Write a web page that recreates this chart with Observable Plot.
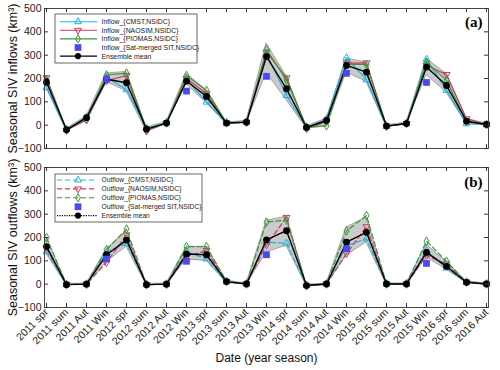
<!DOCTYPE html>
<html><head><meta charset="utf-8">
<script src="https://cdn.jsdelivr.net/npm/d3@7"></script>
<script src="https://cdn.jsdelivr.net/npm/@observablehq/plot@0.6"></script>
<style>
body{margin:0;background:#fff;font-family:"Liberation Sans",Arial,sans-serif;}
#chart{width:500px;height:370px;position:relative;}
#chart svg{display:block;overflow:visible;}
</style></head><body><div id="chart"></div>
<script>
// ---- data ----
const seasons = ["2011 spr","2011 sum","2011 Aut","2011 Win","2012 spr","2012 sum","2012 Aut","2012 Win",
  "2013 spr","2013 sum","2013 Aut","2013 Win","2014 spr","2014 sum","2014 Aut","2014 Win",
  "2015 spr","2015 sum","2015 Aut","2015 Win","2016 spr","2016 sum","2016 Aut"];
const yTicks = [-100, 0, 100, 200, 300, 400, 500];

// Panel (a) inflows
const inCMST   = [160,-18,35,205,152,-12,10,196,99,8,14,306,127,-10,27,289,194,-5,8,282,149,6,3];
const inNAOSIM = [203,-22,22,190,213,-25,9,200,135,10,12,313,203,-15,15,266,267,-4,7,256,217,27,4];
const inPIOMAS = [195,-20,28,215,223,-18,10,213,149,10,13,324,194,-8,-3,260,260,-4,8,270,192,15,3];
const inSat    = [null,null,null,197,null,null,null,146,null,null,null,209,null,null,null,222,null,null,null,183,null,null,null];
const inEns    = [184,-20,32,197,182,-17,9,189,123,9,13,294,156,-10,20,256,227,-4,7,249,170,17,3];
const inLo     = [160,-25,22,185,145,-28,5,175,95,5,8,224,108,-15,-5,226,186,-8,3,215,140,5,0];
const inHi     = [205,-15,38,222,228,-10,14,220,150,12,18,351,210,-5,28,286,268,0,10,285,220,28,6];

// Panel (b) outflows
const outCMST   = [139,-2,0,136,175,-2,0,139,108,10,1,180,175,-5,1,165,194,1,1,144,69,7,1];
const outNAOSIM = [155,-2,0,93,211,-3,0,118,144,11,1,169,286,-8,1,131,246,1,1,122,87,9,1];
const outPIOMAS = [200,-2,0,148,236,-2,0,161,161,12,1,266,275,-6,1,228,294,1,1,184,98,9,1];
const outSat    = [null,null,null,108,null,null,null,98,null,null,null,126,null,null,null,151,null,null,null,89,null,null,null];
const outEns    = [161,-2,0,126,189,-2,0,129,126,11,1,190,229,-6,1,180,222,1,1,136,76,8,1];
const outLo     = [130,-4,-2,95,160,-4,-2,105,100,5,-2,136,165,-9,-2,122,179,-2,-2,115,62,5,-2];
const outHi     = [200,2,2,150,225,2,2,160,160,15,3,272,289,-2,3,243,286,3,3,170,95,12,3];

const inNames  = ["Inflow_{CMST,NSIDC}","Inflow_{NAOSIM,NSIDC}","Inflow_{PIOMAS,NSIDC}","Inflow_{Sat-merged SIT,NSIDC}","Ensemble mean"];
const outNames = ["Outflow_{CMST,NSIDC}","Outflow_{NAOSIM,NSIDC}","Outflow_{PIOMAS,NSIDC}","Outflow_{Sat-merged SIT,NSIDC}","Ensemble mean"];

// ---- styling ----
const colors = {cmst:"#18b4ec", naosim:"#d23a58", piomas:"#3a983a", sat:"#4848f4"};
const W = 500, ML = 44, MR = 12;

function rowsOf(vals){ return seasons.map((s,i)=>({s, v: vals[i]})).filter(d=>d.v!=null); }

function makePanel(o){
  const frameH = o.height - o.marginTop - o.marginBottom;
  const frameW = W - ML - MR;
  const band = seasons.map((s,i)=>({s, lo:o.lo[i], hi:o.hi[i]}));
  const dash = o.dashed ? "5,3" : null;
  const models = [
    {vals:o.cmst, c:colors.cmst, sym:"triangle", rot:0},
    {vals:o.naosim, c:colors.naosim, sym:"triangle", rot:180},
    {vals:o.piomas, c:colors.piomas, sym:"diamond", rot:0}
  ];
  const marks = [
    Plot.areaY(band, {x:"s", y1:"lo", y2:"hi", fill:"#cbcbcb", stroke:"#8a8a8a", strokeWidth:0.7}),
  ];
  for (const m of models){
    marks.push(Plot.line(rowsOf(m.vals), {x:"s", y:"v", stroke:m.c, strokeWidth:1.2, strokeDasharray:dash}));
    marks.push(Plot.dot(rowsOf(m.vals), {x:"s", y:"v", symbol:m.sym, rotate:m.rot, r:2.6, stroke:m.c, fill:"none", strokeWidth:1}));
  }
  marks.push(
    Plot.line(rowsOf(o.ens), {x:"s", y:"v", stroke:"black", strokeWidth:1.4}),
    Plot.dot(rowsOf(o.ens), {x:"s", y:"v", r:3.4, fill:"black"}),
    Plot.dot(rowsOf(o.sat), {x:"s", y:"v", symbol:"square", r:3.8, fill:colors.sat}),
    Plot.frame({stroke:"#333", strokeWidth:0.9}),
    Plot.tickX(seasons, {x:d=>d, insetTop:frameH-4, stroke:"#333"}),
    Plot.tickX(seasons, {x:d=>d, insetBottom:frameH-4, stroke:"#333"}),
    Plot.tickY(yTicks, {y:d=>d, insetRight:frameW-4, stroke:"#333"}),
    Plot.tickY(yTicks, {y:d=>d, insetLeft:frameW-4, stroke:"#333"}),
    Plot.axisY(yTicks, {tickSize:0, tickPadding:3, fontSize:10.5, label:null}),
    Plot.text([o.ylabel], {frameAnchor:"left", rotate:-90, dx:-32, textAnchor:"middle", lineAnchor:"middle", fontSize:12.5, fill:"#111"}),
    Plot.text([o.tag], {frameAnchor:"top-right", dx:-6, dy:o.tagDy, textAnchor:"end", lineAnchor:"top",
      fontFamily:"Liberation Serif, Times New Roman, serif", fontWeight:"bold", fontSize:15, fill:"black"})
  );
  if (o.showX){
    marks.push(
      Plot.axisX(seasons, {tickSize:0, tickRotate:-45, tickPadding:3, fontSize:10.5, label:null}),
      Plot.text(["Date (year season)"], {frameAnchor:"bottom", dy:46, lineAnchor:"top", textAnchor:"middle", fontSize:12, fill:"#111"})
    );
  }
  const svg = Plot.plot({
    width:W, height:o.height, marginLeft:ML, marginRight:MR, marginTop:o.marginTop, marginBottom:o.marginBottom,
    style:{fontFamily:"Liberation Sans, Arial, sans-serif", background:"white", color:"#222"},
    x:{type:"point", domain:seasons, padding:0, axis: o.showX ? undefined : null},
    y:{domain:[-100,500], axis:null},
    marks
  });
  addLegend(svg, o);
  return svg;
}

function addLegend(svg, o){
  const L = o.legend;
  const g = d3.select(svg).append("g").attr("font-family","Liberation Sans, Arial, sans-serif")
    .attr("font-size", L.fs).attr("text-anchor","start");
  g.append("rect").attr("x",L.x).attr("y",L.y).attr("width",L.w).attr("height",L.h)
    .attr("fill","white").attr("stroke","#444").attr("stroke-width",0.8);
  const items = [
    {c:colors.cmst, sym:d3.symbolTriangle, rot:0, line:true, dash:o.dashed?"5,3":null},
    {c:colors.naosim, sym:d3.symbolTriangle, rot:180, line:true, dash:o.dashed?"5,3":null},
    {c:colors.piomas, sym:d3.symbolDiamond, rot:0, line:true, dash:o.dashed?"5,3":null},
    {c:colors.sat, sym:d3.symbolSquare, rot:0, line:false, fill:true},
    {c:"black", sym:d3.symbolCircle, rot:0, line:true, fill:true, dash:o.dashed?"1.2,1.2":null}
  ];
  items.forEach((it,i)=>{
    const y = L.y + L.first + i*L.step;
    if (it.line){
      g.append("line").attr("x1",L.lx1).attr("x2",L.lx2).attr("y1",y).attr("y2",y)
        .attr("stroke",it.c).attr("stroke-width",1.1).attr("stroke-dasharray",it.dash);
    }
    const size = it.sym===d3.symbolSquare ? 45 : (it.sym===d3.symbolCircle ? 30 : 20);
    g.append("path").attr("d", d3.symbol(it.sym, size)())
      .attr("transform",`translate(${L.mx},${y}) rotate(${it.rot})`)
      .attr("fill", it.fill ? it.c : "none").attr("stroke", it.c).attr("stroke-width", it.fill?0:1);
    g.append("text").attr("x",L.tx).attr("y",y).attr("dy","0.35em").attr("fill","#222")
      .attr("text-anchor","start").text(o.names[i]);
  });
}

const chart = document.getElementById("chart");
chart.appendChild(makePanel({
  height:158, marginTop:8, marginBottom:10, showX:false, dashed:false,
  cmst:inCMST, naosim:inNAOSIM, piomas:inPIOMAS, sat:inSat, ens:inEns, lo:inLo, hi:inHi,
  ylabel:"Seasonal SIV inflows (km³)", tag:"(a)", tagDy:8, names:inNames,
  legend:{x:55, y:14, w:142, h:49, first:7.7, step:8.6, lx1:60, lx2:97, mx:78, tx:101.5, fs:6.9}
}));
chart.appendChild(makePanel({
  height:212, marginTop:9, marginBottom:63, showX:true, dashed:true,
  cmst:outCMST, naosim:outNAOSIM, piomas:outPIOMAS, sat:outSat, ens:outEns, lo:outLo, hi:outHi,
  ylabel:"Seasonal SIV outflows (km³)", tag:"(b)", tagDy:9, names:outNames,
  legend:{x:55, y:16, w:147, h:48, first:6, step:8.9, lx1:57, lx2:97, mx:78, tx:101.5, fs:6.7}
}));
</script>
</body></html>
